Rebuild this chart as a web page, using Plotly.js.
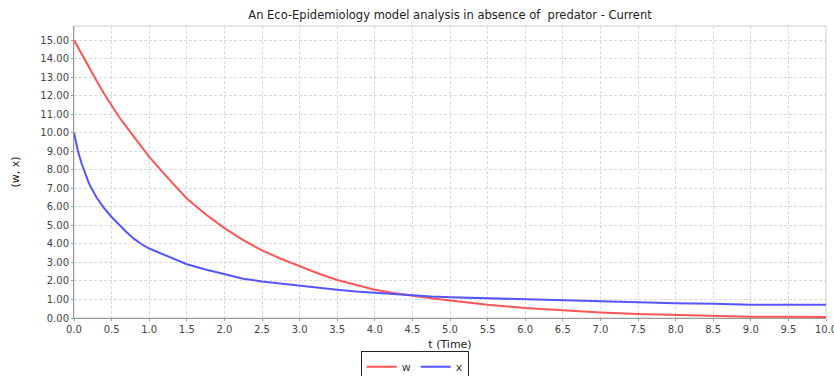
<!DOCTYPE html>
<html>
<head>
<meta charset="utf-8">
<script src="https://cdn.plot.ly/plotly-3.0.1.min.js"></script>
<style>
html,body{margin:0;padding:0;background:#fff;}
#chart{width:834px;height:376px;}
</style>
</head>
<body>
<div id="chart"></div>
<script>
// Time points (t)
var tValues = [0, 0.05, 0.1, 0.2, 0.3, 0.4, 0.5, 0.6, 0.7, 0.8, 0.9, 1.0, 1.25, 1.5, 1.75, 2.0, 2.25, 2.5, 2.75, 3.0, 3.25, 3.5, 3.75, 4.0, 4.25, 4.5, 4.75, 5.0, 5.5, 6.0, 6.5, 7.0, 7.5, 8.0, 8.5, 9.0, 9.5, 10.0];
// Series w (red)
var wValues = [15.0, 14.62, 14.25, 13.5, 12.8, 12.1, 11.45, 10.85, 10.3, 9.75, 9.25, 8.7, 7.55, 6.45, 5.6, 4.85, 4.2, 3.65, 3.2, 2.8, 2.4, 2.05, 1.77, 1.53, 1.35, 1.2, 1.07, 0.95, 0.71, 0.54, 0.40, 0.30, 0.22, 0.16, 0.12, 0.07, 0.07, 0.06];
// Series x (blue)
var xValues = [10.0, 9.05, 8.35, 7.25, 6.5, 5.93, 5.45, 5.03, 4.63, 4.27, 3.98, 3.75, 3.32, 2.9, 2.62, 2.35, 2.12, 1.97, 1.85, 1.74, 1.62, 1.52, 1.43, 1.36, 1.28, 1.21, 1.16, 1.12, 1.07, 1.02, 0.94, 0.88, 0.83, 0.79, 0.77, 0.72, 0.72, 0.72];
var seriesNames = ['w', 'x'];
var titleText = 'An Eco-Epidemiology model analysis in absence of \u00a0predator - Current';
var xTitle = 't (Time)';
var yTitle = '(w, x)';

var font = 'DejaVu Sans, Verdana, sans-serif';

var traces = [
  {x: tValues, y: wValues, name: seriesNames[0], type: 'scatter', mode: 'lines',
   line: {color: '#ff5555', width: 2}},
  {x: tValues, y: xValues, name: seriesNames[1], type: 'scatter', mode: 'lines',
   line: {color: '#5555ff', width: 2}}
];

var layout = {
  width: 834, height: 376,
  margin: {l: 74, r: 8, t: 26, b: 58, pad: 0, autoexpand: false},
  paper_bgcolor: '#ffffff',
  plot_bgcolor: '#ffffff',
  font: {family: font, color: '#444444', size: 10},
  title: {text: titleText, x: 0.5, xref: 'paper', xanchor: 'center',
          y: 0.96, yanchor: 'middle', yref: 'container',
          font: {family: font, size: 11.5, color: '#222222'}},
  showlegend: true,
  legend: {orientation: 'h', x: 0.453, xanchor: 'center', xref: 'paper',
           y: 0.066, yanchor: 'top', yref: 'container',
           bordercolor: '#222222', borderwidth: 1, bgcolor: '#ffffff',
           font: {family: font, size: 11, color: '#333333'},
           itemwidth: 30, tracegroupgap: 0},
  xaxis: {
    range: [0, 10], dtick: 0.5, tick0: 0, tickformat: '.1f',
    automargin: false, ticklabeloverflow: 'allow',
    showgrid: true, gridcolor: '#dadada', griddash: '3px,2px', gridwidth: 1,
    zeroline: false, showline: true, linecolor: '#999999', linewidth: 1,
    ticks: 'outside', ticklen: 2, tickcolor: '#999999',
    tickfont: {family: font, size: 10, color: '#444444'},
    title: {text: xTitle, standoff: 6, font: {family: font, size: 11, color: '#222222'}}
  },
  yaxis: {
    range: [0, 15.76], dtick: 1, tick0: 0, tickformat: '.2f',
    automargin: false,
    showgrid: true, gridcolor: '#dadada', griddash: '3px,2px', gridwidth: 1,
    zeroline: false, showline: true, linecolor: '#999999', linewidth: 1,
    ticks: 'outside', ticklen: 2, tickcolor: '#999999',
    tickfont: {family: font, size: 10, color: '#444444'},
    title: {text: yTitle, standoff: 18, font: {family: font, size: 11, color: '#222222'}}
  },
  shapes: [
    {type: 'rect', xref: 'paper', yref: 'paper', x0: 0, x1: 1, y0: 0, y1: 1,
     line: {color: '#cccccc', width: 1}, fillcolor: 'rgba(0,0,0,0)', layer: 'below'}
  ]
};

Plotly.newPlot('chart', traces, layout, {displayModeBar: false, staticPlot: true});
</script>
</body>
</html>
